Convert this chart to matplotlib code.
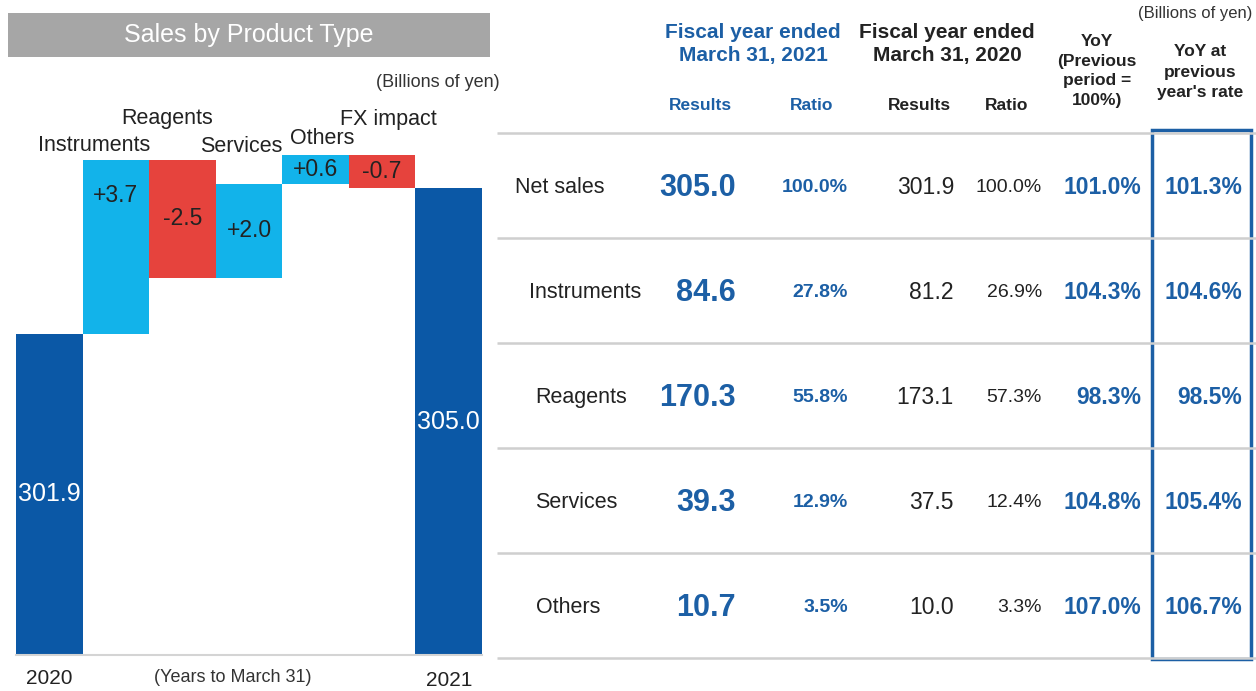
import numpy as np
import matplotlib
matplotlib.use("Agg")
import matplotlib.pyplot as plt
from matplotlib.patches import Rectangle

plt.rcParams["font.family"] = ["Liberation Sans", "DejaVu Sans"]

W, H, DPI = 1256, 691, 100

# --- waterfall: sales bridge 2020 -> 2021 (billions of yen) ---
wf_labels = ["2020", "Instruments", "Reagents", "Services", "Others", "FX impact", "2021"]
start_total = 301.9
wf_changes = [3.7, -2.5, 2.0, 0.6, -0.7]
end_total = 305.0

# --- table ---
row_names = ["Net sales", "Instruments", "Reagents", "Services", "Others"]
results_2021 = [305.0, 84.6, 170.3, 39.3, 10.7]
ratio_2021 = [100.0, 27.8, 55.8, 12.9, 3.5]
results_2020 = [301.9, 81.2, 173.1, 37.5, 10.0]
ratio_2020 = [100.0, 26.9, 57.3, 12.4, 3.3]
yoy = [101.0, 104.3, 98.3, 104.8, 107.0]
yoy_const_fx = [101.3, 104.6, 98.5, 105.4, 106.7]

# cores
DARK = "#0b58a6"
CYAN = "#12b3ea"
RED = "#e6433d"
BLUE_TXT = "#1c5fa5"
INK = "#222222"
GREY_BAR = "#a6a6a6"
RULE = "#cfcfcf"

fig = plt.figure(figsize=(W / DPI, H / DPI), dpi=DPI)
fig.patch.set_facecolor("white")

# camada de texto/tabela em coordenadas de pixel
tab = fig.add_axes([0, 0, 1, 1])
tab.set_xlim(0, W)
tab.set_ylim(H, 0)
tab.axis("off")
tab.patch.set_alpha(0)

# --- waterfall ---
ax = fig.add_axes([16 / W, 1 - 655 / H, (482 - 16) / W, (655 - 130) / H])
y0 = 295.07
ax.set_ylim(y0, y0 + 525 / 47)
ax.set_xlim(-0.5, 6.5)
ax.patch.set_alpha(0)
for s in ("top", "right", "left"):
    ax.spines[s].set_visible(False)
ax.spines["bottom"].set_color("#d4d4d4")
ax.spines["bottom"].set_linewidth(1.5)
ax.set_xticks([])
ax.set_yticks([])

levels = np.cumsum([start_total] + wf_changes)
ax.bar([0, 6], [start_total, end_total], width=1.0, color=DARK, linewidth=0)
for i, d in enumerate(wf_changes, start=1):
    ax.bar(i, d, bottom=levels[i - 1], width=1.0,
           color=CYAN if d > 0 else RED, linewidth=0)
    lo, hi = sorted((levels[i - 1], levels[i]))
    yy = hi - 0.75 if hi - lo > 3 else (lo + hi) / 2
    ax.text(i, yy, f"{d:+.1f}", ha="center", va="center", fontsize=16.5, color=INK)

ax.text(0, (y0 + start_total) / 2, f"{start_total:.1f}", ha="center", va="center",
        fontsize=18, color="white")
ax.text(6, (y0 + end_total) / 2, f"{end_total:.1f}", ha="center", va="center",
        fontsize=18, color="white")

# rotulos das categorias (deslocamento em px a partir do topo da barra)
cat_offsets = [(-22, 15), (-15, 42), (-8, 37), (7, 17), (6, 36)]
for i, (dx, dy) in enumerate(cat_offsets, start=1):
    top = max(levels[i - 1], levels[i])
    ax.annotate(wf_labels[i], xy=(i, top), xytext=(dx, dy), textcoords="offset pixels",
                ha="center", va="center", fontsize=15.5, color=INK)

ax.annotate(wf_labels[0], xy=(0, 0), xycoords=("data", "axes fraction"),
            xytext=(0, -23), textcoords="offset pixels",
            ha="center", va="center", fontsize=15, color=INK)
ax.annotate(wf_labels[-1], xy=(6, 0), xycoords=("data", "axes fraction"),
            xytext=(0, -26), textcoords="offset pixels",
            ha="center", va="center", fontsize=15, color=INK)
tab.text(233, 678, "(Years to March 31)", ha="center", va="center",
         fontsize=13, color="#333333")

# faixa de titulo
tab.add_patch(Rectangle((8, 13), 482, 44, facecolor=GREY_BAR, edgecolor="none"))
tab.text(249, 35, "Sales by Product Type", ha="center", va="center",
         fontsize=18, color="white")
tab.text(500, 82, "(Billions of yen)", ha="right", va="center", fontsize=13, color="#333333")

# --- tabela ---
tab.text(1252, 13, "(Billions of yen)", ha="right", va="center", fontsize=12, color="#333333")
tab.text(753, 44, "Fiscal year ended\nMarch 31, 2021", ha="center", va="center",
         fontsize=15, fontweight="bold", color=BLUE_TXT, linespacing=1.25)
tab.text(947, 44, "Fiscal year ended\nMarch 31, 2020", ha="center", va="center",
         fontsize=15, fontweight="bold", color=INK, linespacing=1.25)
tab.text(1097, 71, "YoY\n(Previous\nperiod =\n100%)", ha="center", va="center",
         fontsize=12.5, fontweight="bold", color=INK, linespacing=1.38)
tab.text(1200, 72, "YoY at\nprevious\nyear's rate", ha="center", va="center",
         fontsize=12.5, fontweight="bold", color=INK, linespacing=1.42)
for x, lab, c in [(700, "Results", BLUE_TXT), (812, "Ratio", BLUE_TXT),
                  (919, "Results", INK), (1007, "Ratio", INK)]:
    tab.text(x, 105, lab, ha="center", va="center", fontsize=12.5,
             fontweight="bold", color=c)

row_top, row_h = 133, 105
for k in range(len(row_names) + 1):
    yline = row_top + k * row_h
    tab.plot([497, W], [yline, yline], color=RULE, lw=1.8, solid_capstyle="butt")

label_x = [515, 529, 535, 535, 536]
col_x = [736, 848, 954, 1042, 1141, 1242]
col_fmt = ["{:.1f}", "{:.1f}%", "{:.1f}", "{:.1f}%", "{:.1f}%", "{:.1f}%"]
col_size = [22, 14, 16.5, 14, 16.5, 16.5]
col_weight = ["bold", "bold", "normal", "normal", "bold", "bold"]
col_color = [BLUE_TXT, BLUE_TXT, INK, INK, BLUE_TXT, BLUE_TXT]
columns = [results_2021, ratio_2021, results_2020, ratio_2020, yoy, yoy_const_fx]

for r, name in enumerate(row_names):
    yc = row_top + row_h * (r + 0.5) + 2
    tab.text(label_x[r], yc, name, ha="left", va="center", fontsize=15.5, color=INK)
    for c, vals in enumerate(columns):
        tab.text(col_x[c], yc, col_fmt[c].format(vals[r]), ha="right", va="center",
                 fontsize=col_size[c], fontweight=col_weight[c], color=col_color[c])

tab.add_patch(Rectangle((1152, 130), 99, 529, fill=False, edgecolor=BLUE_TXT, lw=2.5))

fig.savefig("out.png", dpi=DPI, facecolor="white")
